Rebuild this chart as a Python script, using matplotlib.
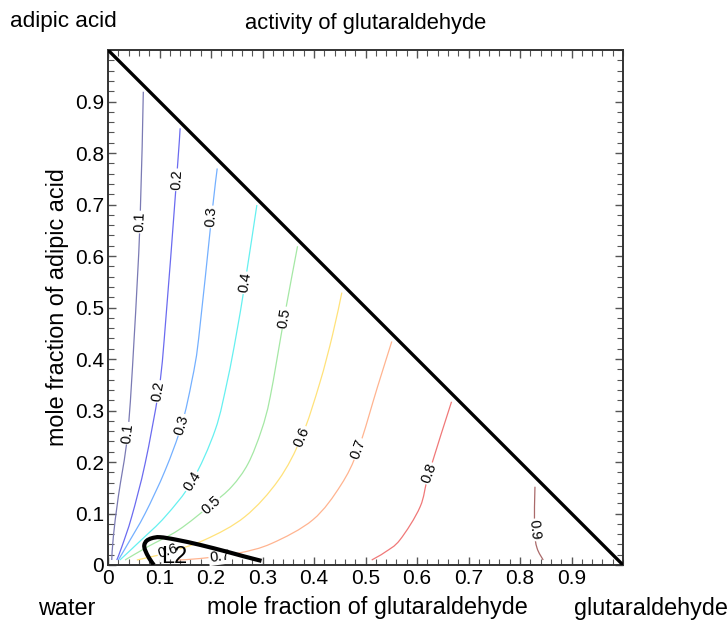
#!/usr/bin/env python3

import matplotlib

matplotlib.use("Agg")
import matplotlib.pyplot as plt
import numpy as np
from matplotlib.patches import PathPatch
from matplotlib.path import Path
from matplotlib.ticker import MultipleLocator

plt.rcParams["font.family"] = ["Liberation Sans", "DejaVu Sans"]

# contour levels of glutaraldehyde activity, each traced as (x, y) in mole fractions
levels = [0.1, 0.2, 0.3, 0.4, 0.5, 0.6, 0.7, 0.8, 0.9]

iso_x = {
    0.1: [0.0685, 0.0621, 0.0505, 0.0383, 0.0200, 0.0103, 0.0072],
    0.2: [0.140, 0.133, 0.109, 0.098, 0.072, 0.046, 0.027, 0.017],
    0.3: [0.212, 0.201, 0.176, 0.163, 0.143, 0.111, 0.072, 0.039, 0.020],
    0.4: [0.289, 0.266, 0.249, 0.232, 0.208, 0.163, 0.111, 0.065, 0.023],
    0.5: [0.368, 0.342, 0.315, 0.298, 0.272, 0.240, 0.200, 0.137, 0.078, 0.033],
    0.6: [0.454, 0.436, 0.411, 0.376, 0.331, 0.266, 0.188, 0.111, 0.056],
    0.7: [0.551, 0.523, 0.486, 0.452, 0.398, 0.318, 0.253, 0.179, 0.133],
    0.8: [0.667, 0.623, 0.606, 0.567, 0.538, 0.512],
    0.9: [0.829, 0.828, 0.833, 0.845],
}
iso_y = {
    0.1: [0.919, 0.666, 0.437, 0.256, 0.133, 0.055, 0.0097],
    0.2: [0.848, 0.748, 0.437, 0.337, 0.197, 0.094, 0.036, 0.0097],
    0.3: [0.770, 0.676, 0.440, 0.359, 0.272, 0.184, 0.100, 0.042, 0.0097],
    0.4: [0.699, 0.548, 0.447, 0.359, 0.262, 0.162, 0.094, 0.049, 0.0097],
    0.5: [0.619, 0.480, 0.327, 0.262, 0.197, 0.152, 0.117, 0.068, 0.036, 0.0097],
    0.6: [0.529, 0.447, 0.353, 0.249, 0.165, 0.094, 0.049, 0.023, 0.0097],
    0.7: [0.434, 0.345, 0.225, 0.155, 0.088, 0.042, 0.023, 0.0126, 0.0097],
    0.8: [0.317, 0.178, 0.113, 0.049, 0.025, 0.0097],
    0.9: [0.152, 0.068, 0.033, 0.0097],
}

# two-liquid boundary near the water corner
l2_x = [0.089, 0.080, 0.072, 0.0705, 0.075, 0.085, 0.101, 0.133, 0.179, 0.230,
        0.263, 0.298]
l2_y = [0.0, 0.013, 0.029, 0.039, 0.047, 0.052, 0.054, 0.049, 0.039, 0.026,
        0.017, 0.008]

tick_values = [0, 0.1, 0.2, 0.3, 0.4, 0.5, 0.6, 0.7, 0.8, 0.9]
tick_labels = ["0", "0.1", "0.2", "0.3", "0.4", "0.5", "0.6", "0.7", "0.8", "0.9"]

colors = {
    0.1: "#7a7ab4",
    0.2: "#6b6bf0",
    0.3: "#74b0ff",
    0.4: "#66f0f0",
    0.5: "#a5e8a5",
    0.6: "#ffe27a",
    0.7: "#ffb490",
    0.8: "#f07878",
    0.9: "#aa6a6a",
}

# where the inline labels sit: (level, x, y, rotation)
label_spots = [
    (0.1, 0.062, 0.666, 88), (0.1, 0.038, 0.256, 84),
    (0.2, 0.133, 0.748, 87), (0.2, 0.098, 0.337, 81),
    (0.3, 0.201, 0.676, 86), (0.3, 0.143, 0.272, 73),
    (0.4, 0.266, 0.548, 81), (0.4, 0.163, 0.162, 58),
    (0.5, 0.342, 0.480, 80), (0.5, 0.200, 0.117, 42),
    (0.6, 0.376, 0.249, 67), (0.6, 0.117, 0.027, 18),
    (0.7, 0.486, 0.225, 70), (0.7, 0.217, 0.0165, 8),
    (0.8, 0.623, 0.178, 70),
    (0.9, 0.828, 0.068, -84),
]


def smooth_path(xs, ys):
    # Catmull-Rom style cubic Bezier through the traced points
    pts = np.column_stack([xs, ys])
    ext = np.vstack([pts[0], pts, pts[-1]])
    verts = [pts[0]]
    codes = [Path.MOVETO]
    for i in range(len(pts) - 1):
        p0, p1, p2, p3 = ext[i], ext[i + 1], ext[i + 2], ext[i + 3]
        verts += [p1 + (p2 - p0) / 6, p2 - (p3 - p1) / 6, p2]
        codes += [Path.CURVE4] * 3
    return Path(verts, codes)


def draw_curve(ax, xs, ys, **kw):
    ax.add_patch(PathPatch(smooth_path(xs, ys), fill=False, **kw))


def main():
    fig = plt.figure(figsize=(7.28, 6.23), dpi=100)
    ax = fig.add_axes([0.1484, 0.0931, 0.7074, 0.8266])

    for lev in levels:
        draw_curve(ax, iso_x[lev], iso_y[lev], edgecolor=colors[lev], lw=0.9,
                   zorder=2)

    for lev, x, y, rot in label_spots:
        ax.text(x, y, f"{lev:.1f}", fontsize=10.5, rotation=rot,
                rotation_mode="anchor", ha="center", va="center", zorder=3,
                bbox=dict(boxstyle="square,pad=0.08", fc="white", ec="none"))

    # composition triangle edge x + y = 1
    ax.plot([0, 1], [1, 0], color="black", lw=2.4, zorder=4,
            solid_capstyle="butt")
    draw_curve(ax, l2_x, l2_y, edgecolor="black", lw=3.0, zorder=4,
               capstyle="butt")
    ax.text(0.129, 0.015, "L2", fontsize=17, ha="center", va="center",
            zorder=5)

    ax.set_xlim(0, 1)
    ax.set_ylim(0, 1)
    ax.set_xticks(tick_values)
    ax.set_xticklabels(tick_labels)
    ax.set_yticks(tick_values)
    ax.set_yticklabels(tick_labels)
    ax.xaxis.set_minor_locator(MultipleLocator(0.02))
    ax.yaxis.set_minor_locator(MultipleLocator(0.02))
    ax.tick_params(which="both", direction="in", top=True, right=True,
                   color="#555555", labelsize=15)
    ax.tick_params(which="major", length=6, width=1, pad=3)
    ax.tick_params(which="minor", length=4, width=0.8)
    for side in ax.spines.values():
        side.set_color("#333333")
        side.set_linewidth(1.4)

    ax.set_ylabel("mole fraction of adipic acid", fontsize=16.8, labelpad=4)
    fig.text(0.502, 0.962, "activity of glutaraldehyde", fontsize=15.8,
             ha="center", va="center")
    fig.text(0.504, 0.025, "mole fraction of glutaraldehyde", fontsize=16.8,
             ha="center", va="center")
    fig.text(0.014, 0.966, "adipic acid", fontsize=16.2, ha="left",
             va="center")
    fig.text(0.092, 0.024, "water", fontsize=16.8, ha="center", va="center")
    fig.text(0.789, 0.024, "glutaraldehyde", fontsize=16.8, ha="left",
             va="center")

    fig.savefig("out.png", dpi=100)


if __name__ == "__main__":
    main()
